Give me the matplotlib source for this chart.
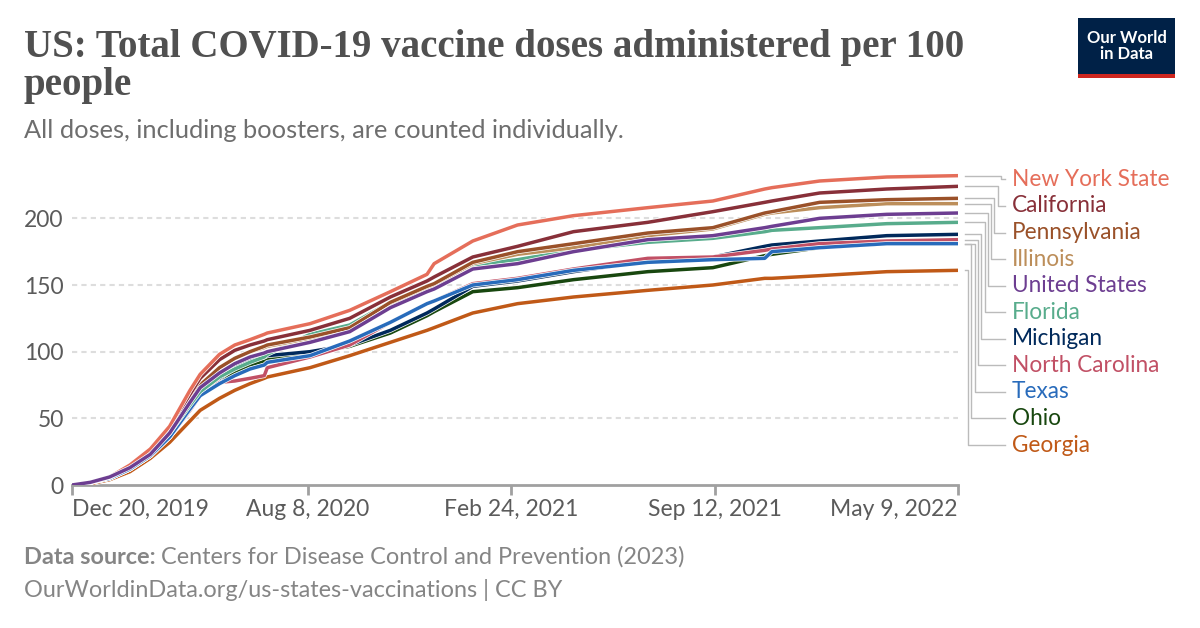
import numpy as np
import pandas as pd
import matplotlib
matplotlib.use('Agg')
import matplotlib.pyplot as plt
import matplotlib.patheffects as pe
from matplotlib.transforms import blended_transform_factory
from matplotlib.patches import Rectangle

dates = ['2019-12-20', '2020-01-07', '2020-01-26', '2020-02-15', '2020-03-06',
         '2020-03-25', '2020-04-14', '2020-04-24', '2020-05-13', '2020-05-28',
         '2020-06-12', '2020-06-26', '2020-06-29', '2020-08-10', '2020-09-18',
         '2020-10-28', '2020-12-03', '2020-12-10', '2021-01-17', '2021-03-02',
         '2021-04-26', '2021-07-08', '2021-09-10', '2021-10-31', '2021-11-07',
         '2021-12-24', '2022-02-28', '2022-05-09']

new_york = [0, 2, 6, 15, 27, 44, 71, 83, 98, 105, 109, 113, 114, 121, 131, 145, 158, 166, 183, 195, 202, 208, 213, 222, 223, 228, 231, 232]
california = [0, 2, 6, 14, 26, 42, 68, 80, 94, 101, 105, 108, 109, 116, 125, 141, 153, 156, 171, 179, 190, 197, 205, 212, 213, 219, 222, 224]
pennsylvania = [0, 2, 6, 14, 25, 41, 64, 75, 88, 95, 100, 104, 105, 111, 118, 137, 149, 151, 167, 175, 181, 189, 193, 204, 205, 212, 214, 215]
illinois = [0, 2, 6, 14, 25, 41, 64, 75, 88, 95, 100, 103, 104, 110, 117, 136, 148, 150, 166, 173, 178, 187, 192, 203, 204, 208, 211, 211]
united_states = [0, 2, 6, 13, 23, 39, 62, 73, 84, 91, 96, 99, 100, 107, 115, 133, 145, 147, 162, 166, 175, 184, 187, 193, 194, 200, 203, 204]
florida = [0, 2, 6, 14, 24, 39, 60, 70, 81, 87, 92, 96, 98, 113, 120, 137, 149, 151, 165, 169, 176, 182, 185, 190, 191, 193, 196, 197]
michigan = [0, 2, 5, 12, 22, 37, 58, 69, 80, 88, 93, 96, 97, 100, 105, 116, 129, 132, 149, 153, 160, 168, 171, 179, 180, 183, 187, 188]
north_carolina = [0, 2, 5, 12, 22, 36, 56, 67, 77, 78, 80, 82, 88, 96, 105, 122, 136, 138, 151, 155, 162, 170, 171, 176, 177, 181, 183, 184]
texas = [0, 2, 5, 12, 22, 36, 57, 67, 76, 82, 87, 90, 92, 97, 108, 122, 136, 138, 150, 154, 161, 167, 169, 170, 175, 178, 181, 181]
ohio = [0, 2, 5, 12, 22, 36, 57, 68, 78, 85, 90, 93, 95, 99, 104, 114, 127, 130, 145, 148, 154, 160, 163, 172, 173, 178, 181, 181]
georgia = [0, 1, 4, 10, 20, 32, 48, 56, 65, 71, 76, 80, 81, 88, 97, 107, 116, 118, 129, 136, 141, 146, 150, 155, 155, 157, 160, 161]

names = ['New York State', 'California', 'Pennsylvania', 'Illinois', 'United States',
         'Florida', 'Michigan', 'North Carolina', 'Texas', 'Ohio', 'Georgia']
series = [new_york, california, pennsylvania, illinois, united_states,
          florida, michigan, north_carolina, texas, ohio, georgia]
colors = ['#E56E5A', '#883039', '#9A5129', '#BC8E5A', '#6D3E91',
          '#58AC8C', '#00295B', '#C15065', '#286BBB', '#18470F', '#C05917']

xticks = ['2019-12-20', '2020-08-08', '2021-02-24', '2021-09-12', '2022-05-09']
xtick_labels = ['Dec 20, 2019', 'Aug 8, 2020', 'Feb 24, 2021', 'Sep 12, 2021', 'May 9, 2022']
yticks = [0, 50, 100, 150, 200]

plt.rcParams['font.family'] = ['Lato', 'DejaVu Sans']

W, H = 1200, 628
fig = plt.figure(figsize=(W/100, H/100), dpi=100)
ax = fig.add_axes([72/W, 1-485/H, 886/W, 320/H])

x = pd.to_datetime(dates)
draw_order = [10, 9, 6, 7, 8, 5, 3, 2, 1, 0, 4]
for i in draw_order:
    ax.plot(x, series[i], color=colors[i], lw=2.5, solid_joinstyle='round',
            path_effects=[pe.Stroke(linewidth=3.5, foreground='white'), pe.Normal()],
            zorder=3)

ax.set_xlim(pd.Timestamp(xticks[0]), pd.Timestamp(xticks[-1]))
ax.set_ylim(0, 240)

for s in ['top', 'right', 'left']:
    ax.spines[s].set_visible(False)
ax.spines['bottom'].set_color('#a0a0a0')
ax.spines['bottom'].set_linewidth(2)

ax.set_yticks(yticks)
ax.set_yticklabels([str(v) for v in yticks])
for v in yticks[1:]:
    ax.axhline(v, color='#dddddd', lw=1.5, ls=(0, (2.5, 2)), zorder=1)
ax.tick_params(axis='y', length=0, labelsize=16.5, labelcolor='#5b5b5b', pad=6)

ax.set_xticks(pd.to_datetime(xticks))
ax.set_xticklabels(xtick_labels)
ax.tick_params(axis='x', length=7, width=2, color='#a0a0a0', labelsize=16.5,
               labelcolor='#5b5b5b', pad=3)
lbls = ax.get_xticklabels()
lbls[0].set_ha('left')
lbls[-1].set_ha('right')

# labels on the right with connector lines
tr = blended_transform_factory(ax.transAxes, ax.transData)
x0 = 1 + 7/886
xe = 1 + 47/886
for i, name in enumerate(names):
    yl = 229.2 - 19.92*i
    ye = series[i][-1]
    xv = 1 + (43 - 3.3*i)/886
    ax.plot([x0, xv, xv, xe], [ye, ye, yl, yl], color='#bbbbbb', lw=1,
            transform=tr, clip_on=False, zorder=2)
    ax.text(1 + 54/886, yl, name, color=colors[i], fontsize=16.3, va='center',
            ha='left', transform=tr)

# title and subtitle
title_kw = dict(fontsize=28, family='Liberation Serif', weight='bold',
                color='#505050', va='baseline', ha='left')
fig.text(24/W, 1-57/H, 'US: Total COVID-19 vaccine doses administered per 100', **title_kw)
fig.text(24/W, 1-95/H, 'people', **title_kw)
fig.text(24/W, 1-130/H, 'All doses, including boosters, are counted individually.',
         fontsize=18.3, color='#6e6e6e', va='center', ha='left')

# footer
foot_kw = dict(fontsize=16.9, color='#858585', va='center', ha='left')
src = fig.text(24/W, 1-557/H, 'Data source:', weight='bold', **foot_kw)
fig.canvas.draw()
bb = src.get_window_extent()
fig.text(bb.x1/W + 5/W, 1-557/H, 'Centers for Disease Control and Prevention (2023)', **foot_kw)
fig.text(24/W, 1-590/H, 'OurWorldinData.org/us-states-vaccinations | CC BY', **foot_kw)

# logo
fig.patches.append(Rectangle((1078/W, 1-78/H), 97/W, 60/H, transform=fig.transFigure,
                             facecolor='#002147', edgecolor='none'))
fig.patches.append(Rectangle((1078/W, 1-78/H), 97/W, 4/H, transform=fig.transFigure,
                             facecolor='#CE261E', edgecolor='none'))
fig.text(1126.5/W, 1-46/H, 'Our World\nin Data', fontsize=12, weight='bold',
         color='white', ha='center', va='center', linespacing=1.05)

fig.savefig('out.png', dpi=100)
